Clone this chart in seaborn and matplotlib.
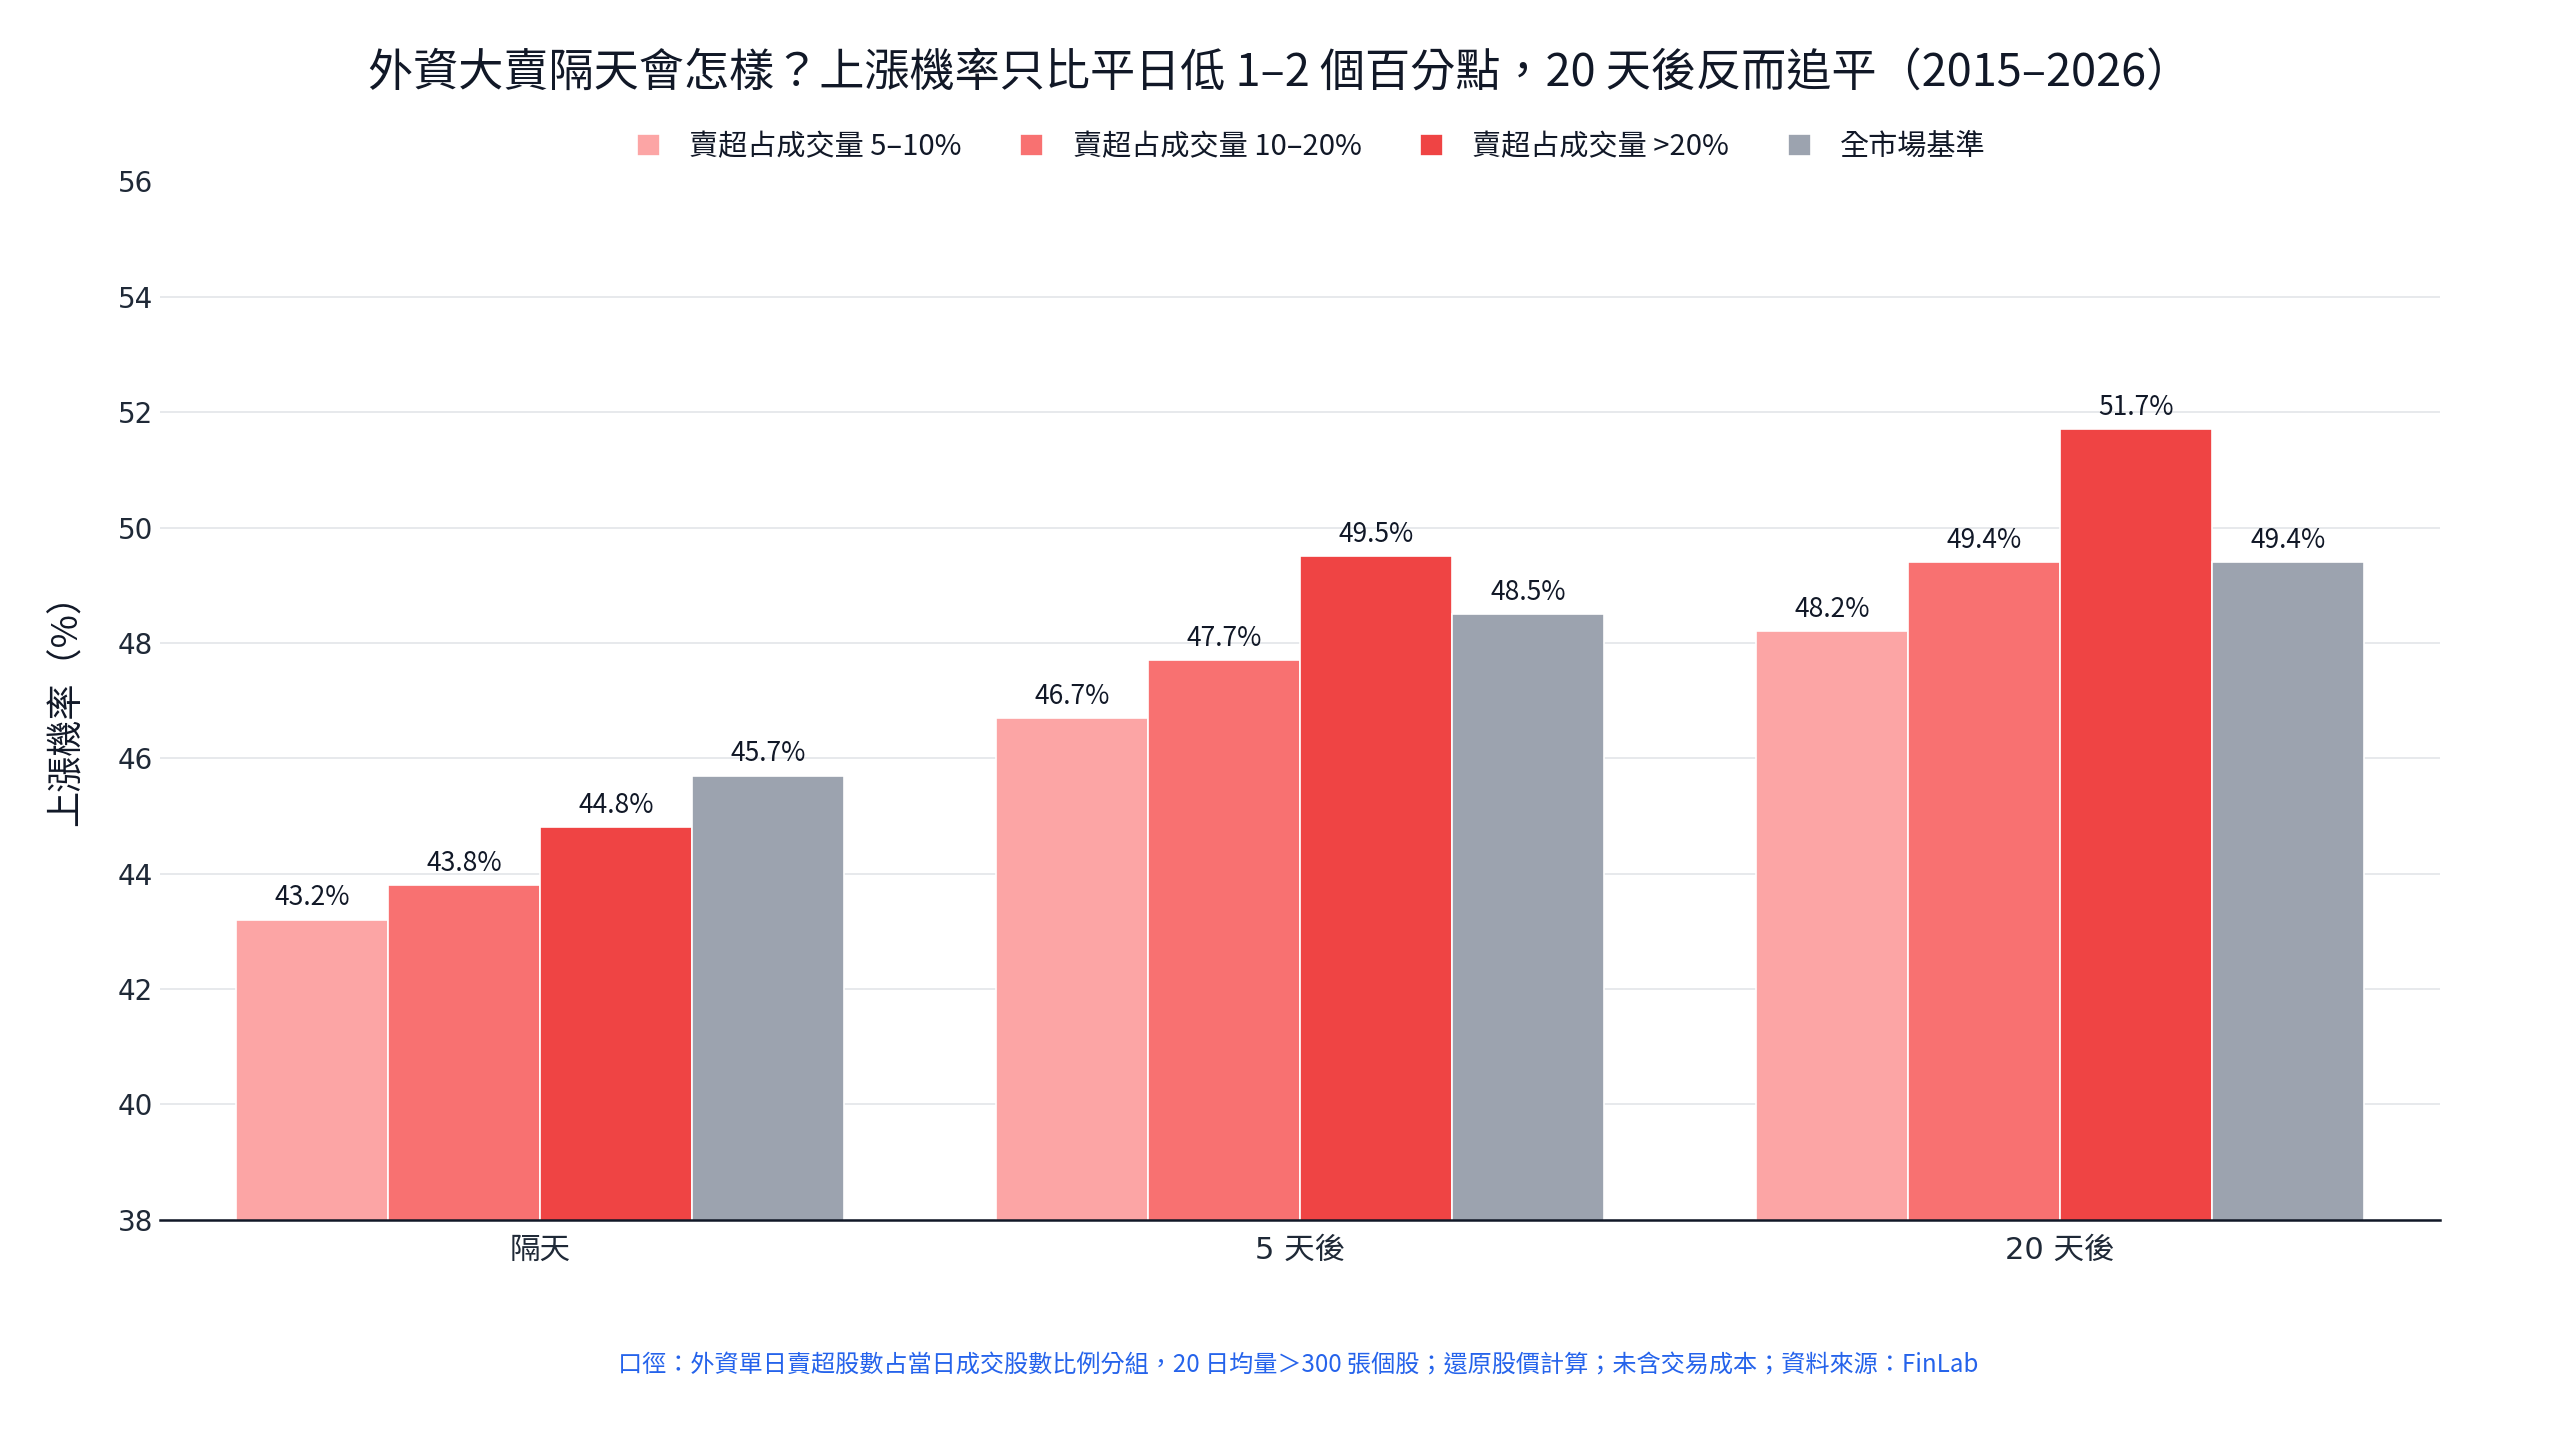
import matplotlib
matplotlib.use('Agg')
import matplotlib.pyplot as plt
import seaborn as sns
import pandas as pd

# Data
horizons = ['隔天', '5 天後', '20 天後']
groups = ['賣超占成交量 5–10%', '賣超占成交量 10–20%', '賣超占成交量 >20%', '全市場基準']
up_5_10 = [43.2, 46.7, 48.2]
up_10_20 = [43.8, 47.7, 49.4]
up_gt20 = [44.8, 49.5, 51.7]
up_market = [45.7, 48.5, 49.4]
colors = ['#fca5a5', '#f87171', '#ef4444', '#9ca3af']

title = '外資大賣隔天會怎樣？上漲機率只比平日低 1–2 個百分點，20 天後反而追平（2015–2026）'
footnote = '口徑：外資單日賣超股數占當日成交股數比例分組，20 日均量＞300 張個股；還原股價計算；未含交易成本；資料來源：FinLab'

# Long format table for seaborn
rows = []
for g, vals in zip(groups, [up_5_10, up_10_20, up_gt20, up_market]):
    for h, v in zip(horizons, vals):
        rows.append({'horizon': h, 'group': g, 'value': v})
df = pd.DataFrame(rows)

sns.set_theme(style='white')
plt.rcParams['font.family'] = ['Noto Sans CJK TC', 'DejaVu Sans']
num_font = ['DejaVu Sans', 'Noto Sans CJK TC']
text_dark = '#111827'
tick_dark = '#1f2937'

fig = plt.figure(figsize=(25.6, 14.4), dpi=100)
ax = fig.add_axes([0.0625, 0.153, 0.8905, 0.721])

sns.barplot(data=df, x='horizon', y='value', hue='group', order=horizons,
            hue_order=groups, palette=colors, width=0.8, ax=ax,
            edgecolor='white', linewidth=1.2, saturation=1, legend=True)

for cont in ax.containers:
    ax.bar_label(cont, fmt='%.1f%%', padding=6, fontsize=19, color=text_dark)

ax.set_ylim(38, 56)
ax.set_yticks(range(38, 57, 2))
ax.set_xlim(-0.5, 2.5)
ax.grid(axis='y', color='#e5e7eb', linewidth=1.3)
ax.set_axisbelow(True)
for s in ['top', 'right', 'left']:
    ax.spines[s].set_visible(False)
ax.spines['bottom'].set_color(text_dark)
ax.spines['bottom'].set_linewidth(1.8)
ax.tick_params(axis='both', length=0, colors=tick_dark)
ax.tick_params(axis='x', pad=12, labelsize=22)
ax.tick_params(axis='y', pad=5, labelsize=20)
for lab in ax.get_yticklabels():
    lab.set_family(num_font)
for lab in ax.get_xticklabels():
    lab.set_family(num_font)
ax.set_xlabel('')
ax.set_ylabel('上漲機率（%）', fontsize=26, color=text_dark, labelpad=24)

handles, labels = ax.get_legend_handles_labels()
ax.legend(handles, labels, loc='center', bbox_to_anchor=(0.505, 1.033), ncol=4,
          frameon=False, fontsize=21, handlelength=0.8, handleheight=0.8,
          columnspacing=2.0, handletextpad=1.0, labelcolor=text_dark)

fig.text(0.5, 0.949, title, ha='center', va='center', fontsize=32.5,
         color=text_dark, fontweight='medium')
fig.text(0.507, 0.052, footnote, ha='center', va='center', fontsize=17.4,
         color='#2563eb')

fig.canvas.draw()
ax.yaxis.get_gridlines()[-1].set_visible(False)

fig.savefig('out.png', dpi=100, facecolor='white')
